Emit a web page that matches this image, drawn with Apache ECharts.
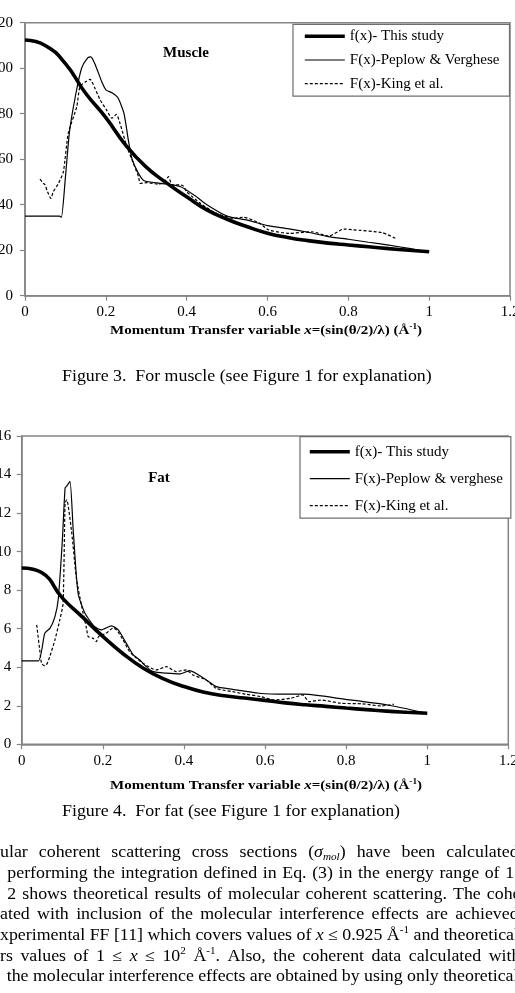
<!DOCTYPE html>
<html><head><meta charset="utf-8">
<script src="https://cdn.jsdelivr.net/npm/echarts@6/dist/echarts.min.js"></script>
<style>html,body{margin:0;padding:0;background:#fff}#c{width:515px;height:993px}</style>
</head><body><div id="c"></div>
<script>
// ---------- data ----------
const seriesNames = ['f(x)- This study', 'F(x)-Peplow & Verghese', 'F(x)-King et al.'];
const seriesNamesFat = ['f(x)- This study', 'F(x)-Peplow & verghese', 'F(x)-King et al.'];
const xTickLabels = [0, 0.2, 0.4, 0.6, 0.8, 1, 1.2];
const muscleYTicks = [0, 20, 40, 60, 80, 100, 120];
const fatYTicks = [0, 2, 4, 6, 8, 10, 12, 14, 16];

// f(x) - this study (sampled every 0.05)
const fxX = [0,0.05,0.1,0.15,0.2,0.25,0.3,0.35,0.4,0.45,0.5,0.55,0.6,0.65,0.7,0.75,0.8,0.85,0.9,0.95,1.0];
const muscleFx = [112.4,110,102,89,78.3,66,56.5,49.6,43.5,37.7,33.6,30.3,27.5,25.6,24.2,23.1,22.3,21.5,20.7,20,19.3];
const fatFx = [9.15,8.9,7.6,6.6,5.6,4.7,3.95,3.4,3.0,2.7,2.52,2.4,2.28,2.15,2.05,1.97,1.88,1.8,1.72,1.66,1.61];

// Peplow & Verghese - muscle
const pvMuscleX = [0,0.085,0.09,0.1,0.11,0.125,0.14,0.155,0.163,0.175,0.19,0.2,0.215,0.23,0.245,0.256,0.265,0.28,0.295,0.335,0.385,0.42,0.45,0.5,0.55,0.6,0.65,0.7,0.75,0.8,0.85,0.9,0.95,1.0];
const pvMuscleY = [35,35,34.5,52,72,88,100,104.5,105,101,94,90.5,89.2,87,80,68,60,54,50.5,49.4,47.9,44,40,35,33.2,30.8,29.5,27.9,26,24.8,23.5,22.2,20.8,19.3];
// King et al. - muscle
const kgMuscleX = [0.037,0.045,0.05,0.054,0.064,0.07,0.083,0.095,0.107,0.128,0.136,0.15,0.161,0.173,0.186,0.202,0.215,0.226,0.235,0.252,0.268,0.281,0.285,0.302,0.33,0.345,0.355,0.364,0.384,0.392,0.4,0.434,0.47,0.516,0.54,0.58,0.603,0.653,0.71,0.752,0.789,0.81,0.884,0.921];
const kgMuscleY = [51.2,49.5,48.7,46.5,42.8,45.7,49.4,54.5,71.4,83,91.9,94,95.1,91.2,86,81.6,78,79.7,75.8,65.5,58.2,52.3,49.4,49.7,49,50,52.3,48.7,48.7,48.2,45.7,40.6,36.5,34,34.5,31.9,28.9,27.4,28.1,26.2,29.3,29,27.7,24.8];

// Peplow & verghese - fat
const pvFatX = [0,0.041,0.057,0.07,0.082,0.09,0.1,0.107,0.111,0.119,0.127,0.139,0.156,0.18,0.197,0.221,0.238,0.258,0.275,0.291,0.307,0.324,0.357,0.39,0.414,0.455,0.48,0.52,0.586,0.65,0.697,0.795,0.902,1.0];
const pvFatY = [4.33,4.33,5.77,6.03,6.63,7.5,10.5,13.3,13.4,13.64,11.13,7.84,6.8,6.1,5.94,6.15,5.94,5.24,4.64,4.38,4.03,3.77,3.69,3.65,3.82,3.34,2.99,2.85,2.65,2.6,2.6,2.34,2.04,1.61];
// King et al. - fat
const kgFatX = [0.037,0.045,0.049,0.057,0.063,0.07,0.082,0.094,0.102,0.107,0.111,0.123,0.135,0.148,0.16,0.164,0.176,0.184,0.19,0.209,0.225,0.234,0.25,0.266,0.283,0.299,0.332,0.357,0.381,0.406,0.422,0.455,0.48,0.52,0.553,0.59,0.623,0.664,0.693,0.709,0.738,0.787,0.84,0.886,0.918];
const kgFatY = [6.2,4.8,4.2,4.07,4.2,4.6,5.42,6.46,7.3,12.5,12.69,11.04,8.6,7.15,6.0,5.59,5.5,5.33,5.6,5.77,6.03,5.94,5.42,4.81,4.47,4.2,3.86,4.03,3.77,3.86,3.6,3.34,2.9,2.73,2.6,2.47,2.3,2.39,2.56,2.21,2.3,2.13,2.1,1.99,2.08];

// texts
const panelTitles = ['Muscle', 'Fat'];
const captions = ['Figure 3.  For muscle (see Figure 1 for explanation)', 'Figure 4.  For fat (see Figure 1 for explanation)'];
const axisTitleSegs = [['Momentum Transfer variable ','n'],['x','i'],['=(sin(θ/2)/λ) (Å','n'],['-1','sup'],[')','n']];
const paraLines = [
  ['ular','coherent','scattering','cross','sections',[['(','n'],['σ','i'],['mol','sub'],[')','n']],'have','been','calculated'],
  ['performing','the','integration','defined','in','Eq.','(3)','in','the','energy','range','of','1'],
  ['2','shows','theoretical','results','of','molecular','coherent','scattering.','The','coherent'],
  ['ated','with','inclusion','of','the','molecular','interference','effects','are','achieved'],
  ['xperimental','FF','[11]','which','covers','values','of',[['x','i']],'≤','0.925',[['Å','n'],['-1','sup']],'and','theoretical'],
  ['rs','values','of','1','≤',[['x','i']],'≤',[['10','n'],['2','sup']],[['Å','n'],['-1','sup'],['.','n']],'Also,','the','coherent','data','calculated','with'],
  ['the','molecular','interference','effects','are','obtained','by','using','only','theoretical']
];
// visible part of the last word of each line (cut by the page edge)
const lastVisible = ['calculate', '1', 'coh', 'achieve', 'theoretica', 'wit', 'theoretica'];
const lastNextFrac = [[ 'd', 0.6 ], [ ' ', 0.2 ], [ 'e', 0.3 ], [ 'd', 0.6 ], [ 'l', 0.2 ], [ 'h', 0.4 ], [ 'l', 0.3 ]];

// ---------- helpers ----------
const FF = '"Liberation Serif", "Times New Roman", serif';
const mctx = document.createElement('canvas').getContext('2d');
function fontOf(kind, size, bold) {
  const small = (kind === 'sub' || kind === 'sup');
  const sz = small ? Math.round(size * 0.65) : size;
  const it = (kind === 'i' || kind === 'sub') ? 'italic ' : '';
  return it + (bold ? 'bold ' : '') + sz + 'px ' + FF;
}
function mw(t, font) { mctx.font = font; return mctx.measureText(t).width; }
function segsOf(w) { return typeof w === 'string' ? [[w, 'n']] : w; }
function segsWidth(segs, size, bold) { return segs.reduce((s, [t, k]) => s + mw(t, fontOf(k, size, bold)), 0); }
function segElems(segs, x, y, size, bold, sx) {
  const out = []; let cx = x;
  for (const [t, k] of segs) {
    const f = fontOf(k, size, bold);
    const dy = k === 'sub' ? size * 0.28 : (k === 'sup' ? -size * 0.33 : 0);
    out.push({ type: 'text', x: cx, y: y + dy, scaleX: sx, silent: true,
      style: { text: t, font: f, fill: '#000', textAlign: 'left', textVerticalAlign: 'middle' } });
    cx += mw(t, f) * sx;
  }
  return out;
}

const fmt = v => String(+(+v).toFixed(1));
const pairs = (xs, ys) => xs.map((x, i) => [x, ys[i]]);

const graphics = [];
// panel titles
graphics.push({ type: 'text', x: 186, y: 53, silent: true, style: { text: panelTitles[0], font: 'bold 15px ' + FF, fill: '#000', textAlign: 'center', textVerticalAlign: 'middle' } });
graphics.push({ type: 'text', x: 159, y: 478, silent: true, style: { text: panelTitles[1], font: 'bold 15px ' + FF, fill: '#000', textAlign: 'center', textVerticalAlign: 'middle' } });
// captions (scaled to measured width)
const capSize = 16;
const capSx = 338 / mw(captions[1], fontOf('n', capSize, false));
graphics.push(...segElems([[captions[0], 'n']], 62, 377, capSize, false, capSx));
graphics.push(...segElems([[captions[1], 'n']], 62, 812, capSize, false, capSx));
// axis titles
const atSize = 13;
const atSx = 312 / segsWidth(axisTitleSegs, atSize, true);
graphics.push(...segElems(axisTitleSegs, 110, 331, atSize, true, atSx));
graphics.push(...segElems(axisTitleSegs, 110, 786, atSize, true, atSx));
// paragraph (justified)
const pSize = 16;
const lineY = [853, 873.5, 894.3, 915, 935.7, 956.3, 977];
const lineX0 = [0, 7.3, 7.3, 0, 0, 0, 6.7];
paraLines.forEach((words, li) => {
  const pf = fontOf('n', pSize, false);
  const lastStart = 515 - (mw(lastVisible[li], pf) + lastNextFrac[li][1] * mw(lastNextFrac[li][0], pf)) * capSx;
  const ws = words.map(w => segsOf(w));
  const widths = ws.map(s => segsWidth(s, pSize, false) * capSx);
  const inner = widths.slice(0, -1).reduce((a, b) => a + b, 0);
  const gap = (lastStart - lineX0[li] - inner) / (ws.length - 1);
  let cx = lineX0[li];
  ws.forEach((s, i) => {
    const x = (i === ws.length - 1) ? lastStart : cx;
    graphics.push(...segElems(s, x, lineY[li], pSize, false, capSx));
    cx += widths[i] + gap;
  });
});

// ---------- chart ----------
const axisGray = '#858585';
function xAx(gi) {
  return { type: 'value', gridIndex: gi, min: 0, max: 1.2, interval: 0.2,
    axisLine: { show: true, lineStyle: { color: axisGray, width: 1.5 } },
    axisTick: { show: true, length: 5, lineStyle: { color: axisGray, width: 1.2 } },
    splitLine: { show: false },
    axisLabel: { color: '#000', fontFamily: FF, fontSize: 15, margin: 9, formatter: fmt, showMaxLabel: true, showMinLabel: true, hideOverlap: false } };
}
function yAx(gi, max, interval, margin) {
  return { type: 'value', gridIndex: gi, min: 0, max: max, interval: interval,
    axisLine: { show: true, lineStyle: { color: axisGray, width: 1.5 } },
    axisTick: { show: true, length: 5, lineStyle: { color: axisGray, width: 1.2 } },
    splitLine: { show: false },
    axisLabel: { color: '#000', fontFamily: FF, fontSize: 15, margin: margin, hideOverlap: false } };
}
function lineSeries(name, gi, data, kind) {
  const ls = kind === 'thick' ? { color: '#000', width: 3.6 } :
             kind === 'solid' ? { color: '#000', width: 1.2 } :
             { color: '#000', width: 1.2, type: [3, 2] };
  return { type: 'line', name, xAxisIndex: gi, yAxisIndex: gi, data, symbol: 'none', showSymbol: false,
    smooth: kind === 'thick' ? true : 0.2, lineStyle: ls, itemStyle: { color: '#000' }, z: kind === 'thick' ? 4 : 3, silent: true };
}
function legendOf(names, left, top, gap, pad) {
  const hidden = { opacity: 0 };
  return { orient: 'vertical', left, top, itemGap: gap, itemWidth: 40, itemHeight: 14, padding: pad,
    borderColor: '#6e6e6e', borderWidth: 1.2, backgroundColor: '#fff', selectedMode: false,
    textStyle: { color: '#000', fontFamily: FF, fontSize: 15 },
    data: [
      { name: names[0], lineStyle: { color: '#000', width: 3.6 }, itemStyle: hidden },
      { name: names[1], lineStyle: { color: '#000', width: 1.2 }, itemStyle: hidden },
      { name: names[2], lineStyle: { color: '#000', width: 1.2, type: [3, 2] }, itemStyle: hidden }
    ] };
}

const option = {
  animation: false,
  backgroundColor: '#fff',
  grid: [
    { left: 25, top: 22.7, width: 485, height: 273, show: true, borderColor: axisGray, borderWidth: 1.5, backgroundColor: 'transparent', containLabel: false, outerBoundsMode: 'none' },
    { left: 21.7, top: 436, width: 486.6, height: 308.3, show: true, borderColor: axisGray, borderWidth: 1.5, backgroundColor: 'transparent', containLabel: false, outerBoundsMode: 'none' }
  ],
  xAxis: [xAx(0), xAx(1)],
  yAxis: [yAx(0, 120, 20, 12), yAx(1, 16, 2, 10.5)],
  legend: [
    legendOf(seriesNames, 293, 24.3, 8.7, [4.5, 10, 5, 10]),
    legendOf(seriesNamesFat, 300, 436.7, 12, [7.5, 8, 5, 8])
  ],
  series: [
    lineSeries(seriesNames[0], 0, pairs(fxX, muscleFx), 'thick'),
    lineSeries(seriesNames[1], 0, pairs(pvMuscleX, pvMuscleY), 'solid'),
    lineSeries(seriesNames[2], 0, pairs(kgMuscleX, kgMuscleY), 'dashed'),
    lineSeries(seriesNamesFat[0], 1, pairs(fxX, fatFx), 'thick'),
    lineSeries(seriesNamesFat[1], 1, pairs(pvFatX, pvFatY), 'solid'),
    lineSeries(seriesNamesFat[2], 1, pairs(kgFatX, kgFatY), 'dashed')
  ],
  graphic: { elements: graphics }
};
const chart = echarts.init(document.getElementById('c'), null, { renderer: 'canvas' });
chart.setOption(option);
</script>
</body></html>
